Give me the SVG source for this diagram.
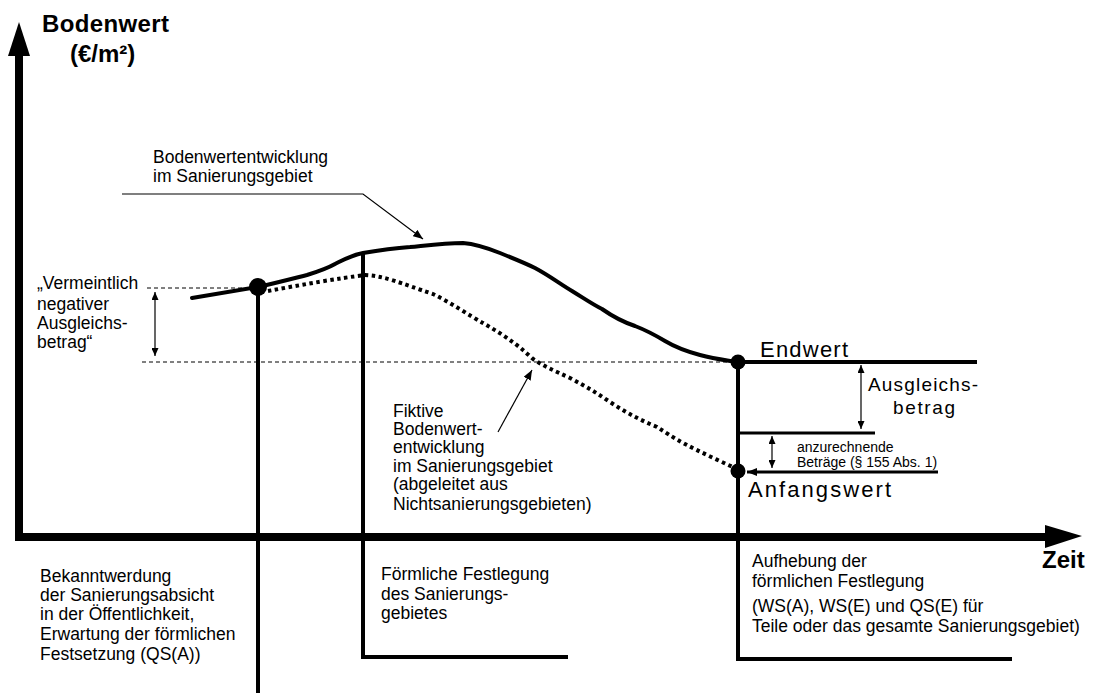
<svg xmlns="http://www.w3.org/2000/svg" width="1096" height="693" viewBox="0 0 1096 693">
<defs>
<marker id="ah" markerUnits="userSpaceOnUse" markerWidth="10" markerHeight="8" refX="10" refY="4" orient="auto-start-reverse"><path d="M0,0 L10,4 L0,8 z" fill="#000"/></marker>
<marker id="ahs" markerUnits="userSpaceOnUse" markerWidth="8" markerHeight="7" refX="8" refY="3.5" orient="auto-start-reverse"><path d="M0,0 L8,3.5 L0,7 z" fill="#000"/></marker>
<style>
text{font-family:"Liberation Sans",Arial,sans-serif;fill:#000}
.t{font-size:17.5px}
.s{font-size:14px}
.b{font-size:24px;font-weight:bold}
.big{font-size:22px}
.axis{stroke:#000;stroke-width:8;fill:none}
.thick{stroke:#000;stroke-width:4;fill:none}
.mid{stroke:#000;stroke-width:3;fill:none}
.thin{stroke:#000;stroke-width:1.2;fill:none}
.dash{stroke:#000;stroke-width:1;stroke-dasharray:4 3;fill:none}
.curve{stroke:#000;stroke-width:4;fill:none;stroke-linejoin:round;stroke-linecap:round}
.dots{stroke:#000;stroke-width:4;fill:none;stroke-dasharray:3.5 3.5}
</style>
</defs>
<rect width="1096" height="693" fill="#fff"/>

<g id="axes">
<line class="axis" x1="19" y1="50" x2="19" y2="541"/>
<polygon points="19,22 30,56 8,56" fill="#000"/>
<line class="axis" x1="15" y1="537" x2="1050" y2="537"/>
<polygon points="1082,536 1045,525 1045,548" fill="#000"/>
<text class="b" x="42" y="32" textLength="127">Bodenwert</text>
<text class="b" x="70" y="62">(€/m²)</text>
<text class="b" x="1042" y="568">Zeit</text>
</g>

<g id="connectors">
<line class="dash" x1="147" y1="288" x2="258" y2="288"/>
<line class="dash" x1="142" y1="362" x2="738" y2="362"/>
<line class="thin" x1="155" y1="292" x2="155" y2="356" marker-start="url(#ahs)" marker-end="url(#ahs)"/>
<path class="curve" d="M192,298 L258,287 C280,282 295,278 307,275 C320,271 328,268 335,264 C345,259 352,255 363,253 C380,250 395,248 410,247 C430,245 445,243 463,243 C475,244 485,247 500,253 C515,259 525,263 535,268 C550,276 560,284 572,291 C585,299 592,304 602,309 C612,316 620,321 635,326 C648,331 655,335 665,341 C675,347 685,351 700,355 C715,359 725,360 737,362"/>
<path class="dots" d="M268,291 C300,285 340,278 365,275 C385,276 400,283 433,294 C450,302 470,316 483,323 C500,333 515,342 533,359 C545,367 555,371 570,378 C585,386 597,393 610,402 C625,412 640,420 657,427 C665,432 672,437 685,444 C700,452 720,461 737,469"/>
<line class="thick" x1="258" y1="287" x2="258" y2="693"/>
<polyline class="thick" points="363,253 363,657 568,657"/>
<polyline class="thick" points="738,362 738,659 1012,659"/>
<line class="thick" x1="738" y1="362" x2="977" y2="362"/>
<line class="mid" x1="738" y1="433" x2="875" y2="433"/>
<line class="mid" x1="938" y1="472" x2="747" y2="472" marker-end="url(#ah)"/>
<line class="thin" x1="861" y1="365" x2="861" y2="429" marker-start="url(#ahs)" marker-end="url(#ahs)"/>
<line class="thin" x1="772" y1="436" x2="772" y2="468" marker-start="url(#ahs)" marker-end="url(#ahs)"/>
<polyline class="thin" points="122,194 363,194 423,239" marker-end="url(#ah)"/>
<line class="thin" x1="498" y1="432" x2="532" y2="370" marker-end="url(#ah)"/>
<circle cx="258" cy="287" r="9" fill="#000"/>
<circle cx="738" cy="362" r="7.5" fill="#000"/>
<circle cx="738" cy="471" r="7.5" fill="#000"/>
</g>

<g id="label-bodenwertentwicklung">
<text class="t" x="153" y="163">Bodenwertentwicklung</text>
<text class="t" x="153" y="182">im Sanierungsgebiet</text>
</g>

<g id="label-vermeintlich">
<text class="t" x="37" y="289">„Vermeintlich</text>
<text class="t" x="37" y="310">negativer</text>
<text class="t" x="37" y="329">Ausgleichs-</text>
<text class="t" x="37" y="348">betrag“</text>
</g>

<g id="label-fiktive">
<text class="t" x="393" y="417">Fiktive</text>
<text class="t" x="393" y="435">Bodenwert-</text>
<text class="t" x="393" y="453">entwicklung</text>
<text class="t" x="393" y="472">im Sanierungsgebiet</text>
<text class="t" x="393" y="490">(abgeleitet aus</text>
<text class="t" x="393" y="510">Nichtsanierungsgebieten)</text>
</g>

<g id="label-endwert">
<text class="big" x="760" y="357" textLength="88">Endwert</text>
</g>
<g id="label-ausgleichsbetrag">
<text x="868" y="391" style="font-size:19px" textLength="110">Ausgleichs-</text>
<text x="893" y="414" style="font-size:19px" textLength="62">betrag</text>
</g>
<g id="label-anzurechnende">
<text class="s" x="797" y="452">anzurechnende</text>
<text class="s" x="797" y="467">Beträge (§ 155 Abs. 1)</text>
</g>
<g id="label-anfangswert">
<text class="big" x="748" y="497" textLength="143">Anfangswert</text>
</g>

<g id="label-bekanntwerdung">
<text class="t" x="40" y="582">Bekanntwerdung</text>
<text class="t" x="40" y="601">der Sanierungsabsicht</text>
<text class="t" x="40" y="620">in der Öffentlichkeit,</text>
<text class="t" x="40" y="640">Erwartung der förmlichen</text>
<text class="t" x="40" y="660">Festsetzung (QS(A))</text>
</g>

<g id="label-festlegung">
<text class="t" x="381" y="580">Förmliche Festlegung</text>
<text class="t" x="381" y="600">des Sanierungs-</text>
<text class="t" x="381" y="619">gebietes</text>
</g>

<g id="label-aufhebung">
<text class="t" x="752" y="567">Aufhebung der</text>
<text class="t" x="752" y="587">förmlichen Festlegung</text>
<text class="t" x="752" y="612">(WS(A), WS(E) und QS(E) für</text>
<text class="t" x="752" y="632">Teile oder das gesamte Sanierungsgebiet)</text>
</g>
</svg>
